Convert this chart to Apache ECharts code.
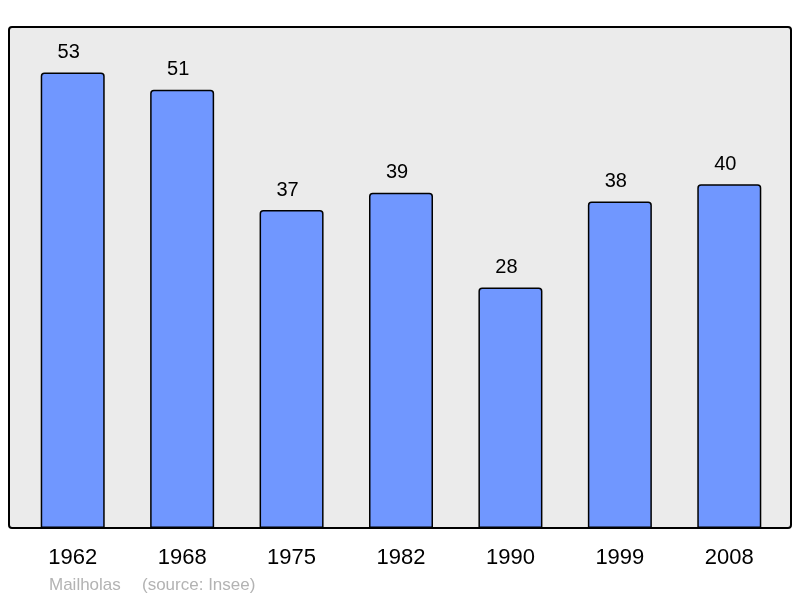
<!DOCTYPE html>
<html><head><meta charset="utf-8">
<script src="https://cdn.jsdelivr.net/npm/echarts@6/dist/echarts.min.js"></script>
<style>html,body{margin:0;padding:0;background:#fff}#c{width:800px;height:598px}</style>
</head><body><div id="c"></div>
<script>
const years = ['1962','1968','1975','1982','1990','1999','2008'];
const population = [53, 51, 37, 39, 28, 38, 40];
const footerPlace = 'Mailholas';
const footerSource = '(source: Insee)';

const chart = echarts.init(document.getElementById('c'), null, {renderer:'canvas'});
chart.setOption({
  animation:false,
  backgroundColor:'#ffffff',
  graphic:[
    {type:'rect', z:-10, shape:{x:9,y:27,width:782,height:501,r:3}, style:{fill:'#ebebeb',stroke:'#000',lineWidth:2}},
    {type:'text', left:49, top:577, style:{text:footerPlace, fill:'#b3b3b3', font:'17px "Liberation Sans", Arial, sans-serif'}},
    {type:'text', left:142, top:577, style:{text:footerSource, fill:'#b3b3b3', font:'17px "Liberation Sans", Arial, sans-serif'}}
  ],
  grid:{left:18, right:16, top:27, bottom:70, containLabel:false},
  xAxis:{type:'category', data:years, axisLine:{show:false}, axisTick:{show:false},
    axisLabel:{color:'#000', fontSize:22, fontFamily:'"Liberation Sans", Arial, sans-serif', margin:19}},
  yAxis:{type:'value', min:0, max:58.3, show:false, splitLine:{show:false}},
  series:[{type:'bar', data:population, barWidth:64,
    itemStyle:{color:'#7097ff', borderColor:'#000', borderWidth:1.5, borderRadius:[3,3,0,0]},
    label:{show:true, position:'top', distance:10, offset:[-4,0], color:'#000', fontSize:20, fontFamily:'"Liberation Sans", Arial, sans-serif'}
  }]
});
</script></body></html>
